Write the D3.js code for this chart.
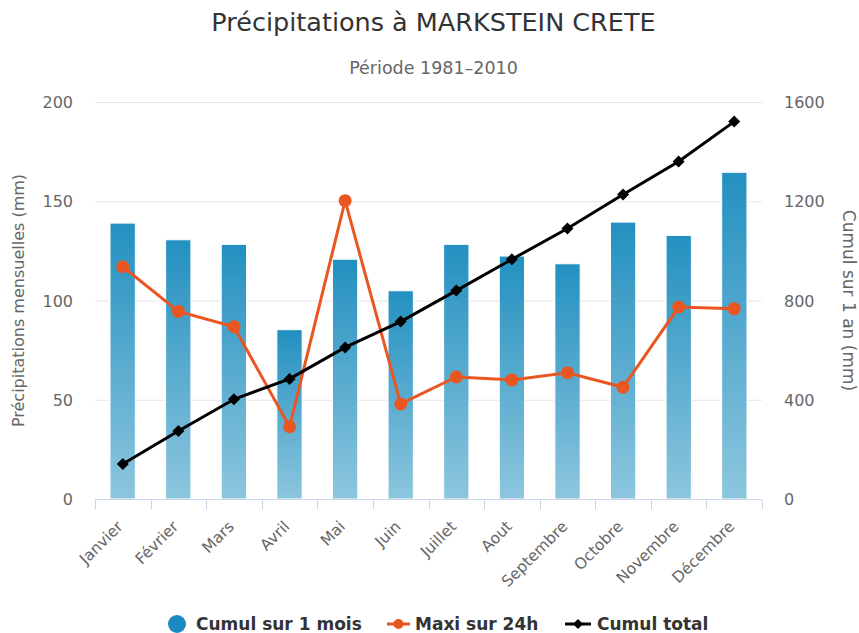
<!DOCTYPE html>
<html><head><meta charset="utf-8">
<script src="https://cdn.jsdelivr.net/npm/d3@7"></script>
<style>body{margin:0;background:#fff;font-family:"DejaVu Sans",sans-serif;}</style>
</head><body><div id="chart"></div>
<script>
const months = ["Janvier","Février","Mars","Avril","Mai","Juin","Juillet","Aout","Septembre","Octobre","Novembre","Décembre"];
const cumulMois = [139,130.6,128.3,85.3,120.8,104.9,128.3,122.4,118.5,139.5,132.8,164.6];
const maxi24h = [117,94.5,86.8,36.4,150.3,47.9,61.5,60,63.6,56.3,96.7,95.9];
const cumulTotal = [141,274,402,484,611,715,840,966,1090,1227,1360,1521];
const leftTicks = [0,50,100,150,200];
const rightTicks = [0,400,800,1200,1600];

const W=859,H=633;
const m={l:95,r:97,t:102,b:134};
const svg=d3.select("#chart").append("svg").attr("width",W).attr("height",H);
const defs=svg.append("defs");
const g=defs.append("linearGradient").attr("id","bg").attr("x1",0).attr("y1",0).attr("x2",0).attr("y2",1);
g.append("stop").attr("offset","0%").attr("stop-color","#2390c0");
g.append("stop").attr("offset","100%").attr("stop-color","#8dc6de");

const x=d3.scaleBand().domain(months).range([m.l,W-m.r]).paddingInner(0.545).paddingOuter(0.27);
const xb=d3.scaleBand().domain(months).range([m.l,W-m.r]);
const yL=d3.scaleLinear().domain([0,200]).range([H-m.b,m.t]);
const yR=d3.scaleLinear().domain([0,1600]).range([H-m.b,m.t]);

// grid
svg.append("g").selectAll("line").data(leftTicks).join("line")
 .attr("x1",m.l).attr("x2",W-m.r).attr("y1",d=>yL(d)+0.5).attr("y2",d=>yL(d)+0.5)
 .attr("stroke","#e6e6e6").attr("stroke-width",1);

// titles
svg.append("text").attr("x",W/2+4).attr("y",31).attr("text-anchor","middle")
 .attr("font-size",25.5).attr("fill","#333").text("Précipitations à MARKSTEIN CRETE");
svg.append("text").attr("x",W/2+4).attr("y",74).attr("text-anchor","middle")
 .attr("font-size",17.5).attr("fill","#666").text("Période 1981–2010");

// axis labels
svg.append("g").selectAll("text").data(leftTicks).join("text")
 .attr("x",73).attr("y",d=>yL(d)+6).attr("text-anchor","end").attr("font-size",16).attr("fill","#666").text(d=>d);
svg.append("g").selectAll("text").data(rightTicks).join("text")
 .attr("x",784).attr("y",d=>yR(d)+6).attr("text-anchor","start").attr("font-size",16).attr("fill","#666").text(d=>d);
svg.append("text").attr("transform",`translate(24,${(m.t+H-m.b)/2}) rotate(-90)`).attr("text-anchor","middle")
 .attr("font-size",16).attr("fill","#666").text("Précipitations mensuelles (mm)");
svg.append("text").attr("transform",`translate(843,${(m.t+H-m.b)/2}) rotate(90)`).attr("text-anchor","middle")
 .attr("font-size",17).attr("fill","#666").text("Cumul sur 1 an (mm)");

// bars
svg.append("g").selectAll("rect").data(cumulMois).join("rect")
 .attr("x",(d,i)=>x(months[i])).attr("width",x.bandwidth())
 .attr("y",d=>yL(d)).attr("height",d=>yL(0)-yL(d))
 .attr("fill","url(#bg)").attr("stroke","#fff").attr("stroke-width",1);

// x axis
const y0=yL(0)+0.5;
svg.append("line").attr("x1",m.l).attr("x2",W-m.r).attr("y1",y0).attr("y2",y0).attr("stroke","#ccd6eb");
svg.append("g").selectAll("line").data(months.concat(["__end"])).join("line")
 .attr("x1",(d,i)=>Math.round(m.l+i*xb.step())+0.5).attr("x2",(d,i)=>Math.round(m.l+i*xb.step())+0.5)
 .attr("y1",y0).attr("y2",y0+10).attr("stroke","#ccd6eb");
svg.append("g").selectAll("text").data(months).join("text")
 .attr("transform",d=>`translate(${xb(d)+xb.bandwidth()/2+1},${y0+28}) rotate(-45)`)
 .attr("text-anchor","end").attr("font-size",15.5).attr("fill","#666").text(d=>d);

const cx=d=>xb(d)+xb.bandwidth()/2;
// orange line
svg.append("path").datum(maxi24h).attr("fill","none").attr("stroke","#ea5622").attr("stroke-width",3)
 .attr("d",d3.line().x((d,i)=>cx(months[i])).y(d=>yL(d)));
svg.append("g").selectAll("circle").data(maxi24h).join("circle")
 .attr("cx",(d,i)=>cx(months[i])).attr("cy",d=>yL(d)).attr("r",6.5).attr("fill","#ea5622");
// black line
svg.append("path").datum(cumulTotal).attr("fill","none").attr("stroke","#000").attr("stroke-width",3)
 .attr("d",d3.line().x((d,i)=>cx(months[i])).y(d=>yR(d)));
svg.append("g").selectAll("path.dm").data(cumulTotal).join("path")
 .attr("transform",(d,i)=>`translate(${cx(months[i])},${yR(d)})`)
 .attr("d","M0,-6L6,0L0,6L-6,0Z").attr("fill","#000");

// legend
const ly=624;
const lg=svg.append("g").attr("font-size",17).attr("font-weight","bold").attr("fill","#333");
lg.append("circle").attr("cx",177).attr("cy",ly).attr("r",9).attr("fill","#1c8ac0");
lg.append("text").attr("x",196).attr("y",ly+6).text("Cumul sur 1 mois");
lg.append("line").attr("x1",387).attr("x2",410).attr("y1",ly).attr("y2",ly).attr("stroke","#ea5622").attr("stroke-width",3);
lg.append("circle").attr("cx",398.5).attr("cy",ly).attr("r",5).attr("fill","#ea5622");
lg.append("text").attr("x",415).attr("y",ly+6).text("Maxi sur 24h");
lg.append("line").attr("x1",565).attr("x2",591).attr("y1",ly).attr("y2",ly).attr("stroke","#000").attr("stroke-width",3);
lg.append("path").attr("transform",`translate(578,${ly})`).attr("d","M0,-5L5,0L0,5L-5,0Z").attr("fill","#000");
lg.append("text").attr("x",597).attr("y",ly+6).text("Cumul total");
</script></body></html>
